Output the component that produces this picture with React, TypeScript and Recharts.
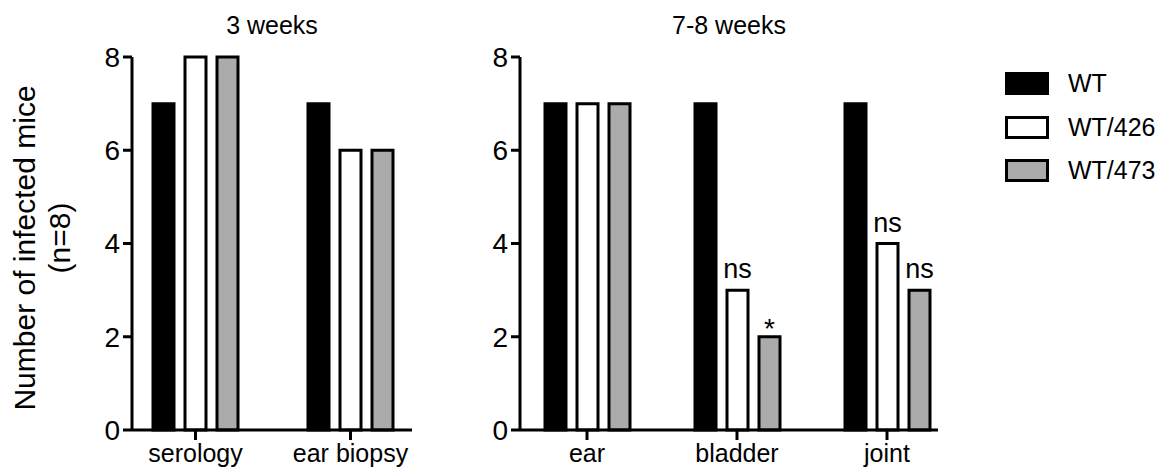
import { BarChart, Bar, XAxis, YAxis, LabelList } from "recharts";

const FONT = "'Liberation Sans', Arial, Helvetica, sans-serif";

// 3 weeks
const earlyCategories = ["serology", "ear biopsy"];
const earlyWT = [7, 7];
const earlyWT426 = [8, 6];
const earlyWT473 = [8, 6];

// 7-8 weeks
const lateCategories = ["ear", "bladder", "joint"];
const lateWT = [7, 7, 7];
const lateWT426 = [7, 3, 4];
const lateWT473 = [7, 2, 3];
const lateSig426 = ["", "ns", "ns"];
const lateSig473 = ["", "*", "ns"];

const yTicks = [0, 2, 4, 6, 8];

const series = [
  { key: "wt", sig: "sigwt", name: "WT", fill: "#000000" },
  { key: "wt426", sig: "sig426", name: "WT/426", fill: "#ffffff" },
  { key: "wt473", sig: "sig473", name: "WT/473", fill: "#ababab" },
];

const earlyData = earlyCategories.map((c, i) => ({
  category: c,
  wt: earlyWT[i],
  wt426: earlyWT426[i],
  wt473: earlyWT473[i],
}));

const lateData = lateCategories.map((c, i) => ({
  category: c,
  wt: lateWT[i],
  wt426: lateWT426[i],
  wt473: lateWT473[i],
  sig426: lateSig426[i],
  sig473: lateSig473[i],
}));

const axisStroke = { stroke: "#000", strokeWidth: 3 };

const SigLabel = (props: any) => {
  const { value } = props;
  if (!value) return null;
  const vb = props.viewBox || props;
  const x = vb.x + vb.width / 2;
  const star = value === "*";
  return (
    <text
      x={x}
      y={star ? vb.y + 1 : vb.y - 12}
      textAnchor="middle"
      fontSize={star ? 28 : 27}
      fontFamily={FONT}
      fill="#000"
    >
      {value}
    </text>
  );
};

function Panel({ data, width, yWidth, right, padding, withLabels }: any) {
  return (
    <BarChart
      width={width}
      height={472}
      data={data}
      margin={{ top: 57, right, bottom: 0, left: 0 }}
      barSize={21}
      barGap={11}
    >
      <XAxis
        dataKey="category"
        padding={padding}
        height={42}
        tickSize={10}
        tickMargin={4}
        axisLine={axisStroke}
        tickLine={axisStroke}
        tick={{ fontSize: 25, fill: "#000", fontFamily: FONT }}
        interval={0}
      />
      <YAxis
        width={yWidth}
        domain={[0, 8]}
        ticks={yTicks}
        tickSize={9}
        tickMargin={3}
        axisLine={axisStroke}
        tickLine={axisStroke}
        tick={{ fontSize: 28, fill: "#000", fontFamily: FONT }}
        interval={0}
      />
      {series.map((s) => (
        <Bar
          key={s.key}
          dataKey={s.key}
          name={s.name}
          fill={s.fill}
          stroke="#000"
          strokeWidth={3}
          isAnimationActive={false}
        >
          {withLabels && <LabelList dataKey={s.sig} content={SigLabel} />}
        </Bar>
      ))}
    </BarChart>
  );
}

export default function App() {
  return (
    <div
      style={{
        position: "absolute",
        left: 0,
        top: 0,
        width: 1168,
        height: 472,
        background: "#fff",
        fontFamily: FONT,
        color: "#000",
      }}
    >
      <div style={{ position: "absolute", left: 0, top: 0 }}>
        <Panel
          data={earlyData}
          width={430}
          yWidth={132}
          right={18}
          padding={{ left: -14, right: -16 }}
          withLabels={false}
        />
      </div>
      <div style={{ position: "absolute", left: 440, top: 0 }}>
        <Panel
          data={lateData}
          width={728}
          yWidth={80}
          right={230}
          padding={{ left: -8, right: -24 }}
          withLabels={true}
        />
      </div>

      {/* panel titles */}
      <div style={{ position: "absolute", left: 132, width: 280, top: 13, textAlign: "center", fontSize: 25, lineHeight: "25px" }}>
        3 weeks
      </div>
      <div style={{ position: "absolute", left: 520, width: 418, top: 13, textAlign: "center", fontSize: 25, lineHeight: "25px" }}>
        7-8 weeks
      </div>

      {/* y axis title */}
      <svg width={90} height={472} style={{ position: "absolute", left: 0, top: 0 }}>
        <text transform="rotate(-90)" x={-248} y={35} textAnchor="middle" fontSize={30} fontFamily={FONT} fill="#000">
          Number of infected mice
        </text>
        <text transform="rotate(-90)" x={-238} y={70} textAnchor="middle" fontSize={30} fontFamily={FONT} fill="#000">
          (n=8)
        </text>
      </svg>

      {/* legend */}
      <div style={{ position: "absolute", left: 1005, top: 72 }}>
        {series.map((s) => (
          <div key={s.key} style={{ display: "flex", alignItems: "center", height: 23, marginBottom: 20.5 }}>
            <div
              style={{
                width: 44,
                height: 23,
                boxSizing: "border-box",
                border: "3px solid #000",
                background: s.fill,
              }}
            />
            <span style={{ marginLeft: 19, fontSize: 25, lineHeight: "23px" }}>{s.name}</span>
          </div>
        ))}
      </div>
    </div>
  );
}
